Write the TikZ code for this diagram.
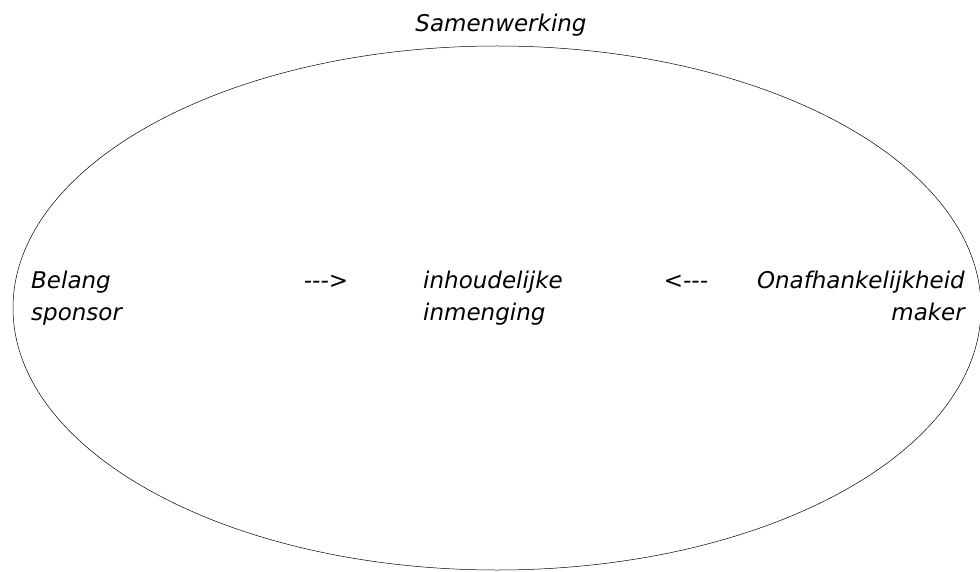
\documentclass[tikz,border=0pt]{standalone}
\usepackage{fontspec}
\setmainfont{DejaVu Sans}
\usetikzlibrary{positioning}

\begin{document}
\begin{tikzpicture}[
  x=1pt, y=-1pt,
	label1/.style={
	inner sep=0pt,
	font=\fontsize{23}{32}\selectfont\itshape},
	area/.style={
	draw,
	line width=0.5pt
	}]

	% Frame
	\useasboundingbox (0,0) rectangle (980,572);

	% Cooperation
	\draw[area] (497,308) ellipse [x radius=484, y radius=262];
	\node [label1, anchor=base] at (501,32)  (title) {Samenwerking};

	% Sides (base = second line)
	\node [label1, align=left, anchor=base west] at (31,320)   (belang) {Belang\\sponsor};
	\node [label1, align=right, anchor=base east] at (965,320) (onaf) {Onafhankelijkheid\\maker};

	% Middle
	\node [label1, align=left, anchor=base west] at (423,320)  (inhoud) {inhoudelijke\\inmenging};
	\node [label1, anchor=base] at (326,288)  (arrowr) {{-}{-}{-}>};
	\node [label1, anchor=base] at (686,288)  (arrowl) {<{-}{-}{-}};

\end{tikzpicture}
\end{document}
